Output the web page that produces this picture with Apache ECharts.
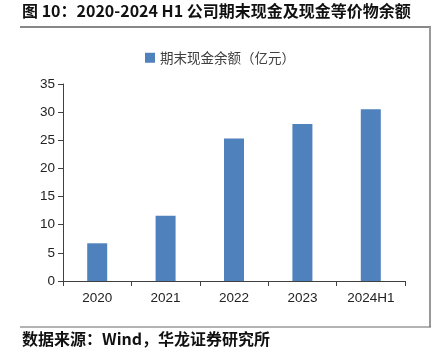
<!DOCTYPE html>
<html><head><meta charset="utf-8">
<script src="https://cdn.jsdelivr.net/npm/echarts@6/dist/echarts.min.js"></script>
<style>html,body{margin:0;padding:0;background:#fff}#c{width:433px;height:358px}</style>
</head><body><div id="c"></div>
<script>
const categories = ['2020', '2021', '2022', '2023', '2024H1'];
const cashValues = [6.7, 11.6, 25.3, 27.9, 30.5];
const yTicks = [0, 5, 10, 15, 20, 25, 30, 35];
const seriesName = '期末现金余额（亿元）';
const titleText = '图 10：2020-2024 H1 公司期末现金及现金等价物余额';
const sourceText = '数据来源：Wind，华龙证券研究所';

const chart = echarts.init(document.getElementById('c'), null, {renderer: 'canvas'});
chart.setOption({
  animation: false,
  backgroundColor: '#fff',
  grid: {left: 63, right: 28, top: 84, bottom: 77},
  legend: {
    top: 46, left: 140, itemWidth: 10, itemHeight: 10, itemGap: 6,
    icon: 'rect',
    textStyle: {fontFamily: 'Noto Sans CJK SC', fontSize: 13.5, color: '#404040'},
    data: [seriesName]
  },
  xAxis: {
    type: 'category', data: categories,
    axisLine: {lineStyle: {color: '#404040', width: 1}},
    axisTick: {show: true, alignWithLabel: false, length: 5, lineStyle: {color: '#404040'}},
    axisLabel: {fontFamily: 'Liberation Sans', fontSize: 13.5, color: '#222', margin: 10}
  },
  yAxis: {
    type: 'value', min: yTicks[0], max: yTicks[yTicks.length - 1], interval: 5,
    axisLine: {show: true, lineStyle: {color: '#404040', width: 1}},
    axisTick: {show: true, length: 5, lineStyle: {color: '#404040'}},
    splitLine: {show: false},
    axisLabel: {fontFamily: 'Liberation Sans', fontSize: 13.5, color: '#222', margin: 8}
  },
  series: [{
    name: seriesName, type: 'bar', data: cashValues, barWidth: 20,
    itemStyle: {color: '#4F81BD'}
  }],
  graphic: [
    {type: 'text', left: 22, top: 3, style: {text: titleText, font: 'bold 16px "Noto Sans CJK SC"', fill: '#111'}},
    {type: 'line', shape: {x1: 20, y1: 27, x2: 431, y2: 27}, style: {stroke: '#111', lineWidth: 1}},
    {type: 'line', shape: {x1: 430, y1: 27, x2: 430, y2: 327}, style: {stroke: '#999', lineWidth: 2}},
    {type: 'line', shape: {x1: 20, y1: 327, x2: 431, y2: 327}, style: {stroke: '#666', lineWidth: 1}},
    {type: 'text', left: 22, top: 331, style: {text: sourceText, font: 'bold 16px "Noto Sans CJK SC"', fill: '#111'}}
  ]
});
</script></body></html>
